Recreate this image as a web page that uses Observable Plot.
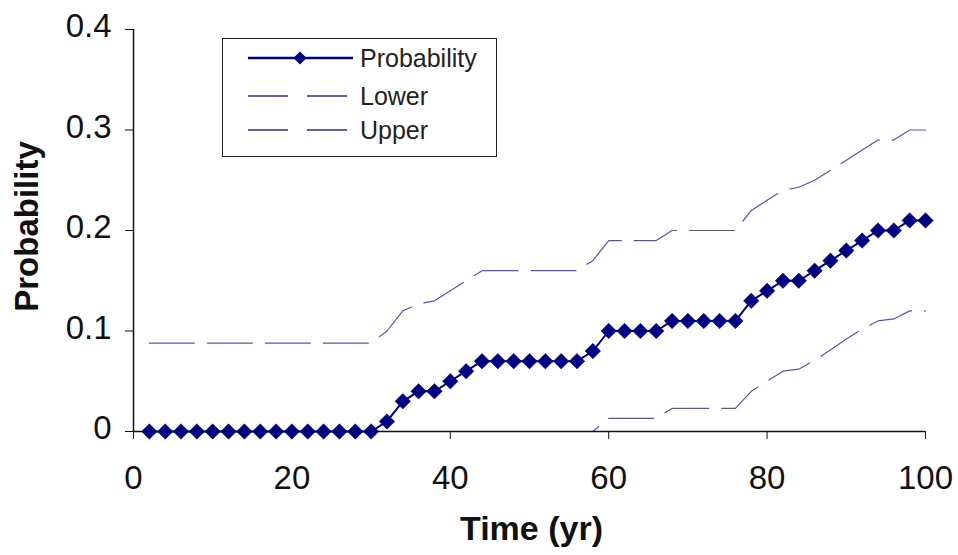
<!DOCTYPE html>
<html><head><meta charset="utf-8">
<script src="https://cdn.jsdelivr.net/npm/d3@7"></script>
<script src="https://cdn.jsdelivr.net/npm/@observablehq/plot@0.6"></script>
<style>
body{margin:0;background:#fff;}
#wrap{position:relative;width:958px;height:555px;overflow:hidden;}
#legend{position:absolute;left:222px;top:38px;width:275px;height:119px;box-sizing:border-box;border:1.5px solid #222;background:#fff;}
</style></head><body><div id="wrap"></div>
<script>
// Data
const years = [2,4,6,8,10,12,14,16,18,20,22,24,26,28,30,32,34,36,38,40,42,44,46,48,50,52,54,56,58,60,62,64,66,68,70,72,74,76,78,80,82,84,86,88,90,92,94,96,98,100];
const probability = [0,0,0,0,0,0,0,0,0,0,0,0,0,0,0,
  0.01,0.03,0.04,0.04,0.05,0.06,0.07,0.07,0.07,0.07,0.07,0.07,0.07,0.08,0.10,0.10,0.10,0.10,
  0.11,0.11,0.11,0.11,0.11,0.13,0.14,0.15,0.15,0.16,0.17,0.18,0.19,0.20,0.20,0.21,0.21];
const lower = [0,0,0,0,0,0,0,0,0,0,0,0,0,0,0,0,0,0,0,0,0,0,0,0,0,0,0,0,0,
  0.013,0.013,0.013,0.013,0.023,0.023,0.023,0.023,0.023,0.04,0.05,0.06,0.062,0.071,0.081,0.092,0.102,0.11,0.112,0.12,0.12];
const upper = [0.088,0.088,0.088,0.088,0.088,0.088,0.088,0.088,0.088,0.088,0.088,0.088,0.088,0.088,0.088,
  0.10,0.12,0.127,0.13,0.14,0.15,0.16,0.16,0.16,0.16,0.16,0.16,0.16,0.17,0.19,0.19,0.19,0.19,
  0.20,0.20,0.20,0.20,0.20,0.22,0.23,0.24,0.243,0.25,0.26,0.27,0.28,0.29,0.29,0.30,0.30];
const xTicks = [0,20,40,60,80,100];
const yTicks = [0,0.1,0.2,0.3,0.4];
const yTickLabels = ["0","0.1","0.2","0.3","0.4"];
const seriesNames = ["Probability","Lower","Upper"];
const xLabel = "Time (yr)";
const yLabel = "Probability";

const rows = years.map((year,i)=>({year, probability: probability[i], lower: lower[i], upper: upper[i]}));
const navy = "#000080";
const dashColor = "#2a2a96";

const chart = Plot.plot({
  width: 958, height: 555,
  marginLeft: 133, marginRight: 33, marginTop: 29, marginBottom: 124,
  style: {fontFamily: "'Liberation Sans', Arial, sans-serif", fontSize: "33px", color: "#111", background: "#fff", overflow: "visible"},
  x: {domain: [0,100]},
  y: {domain: [0,0.4]},
  marks: [
    Plot.axisX({ticks: xTicks, tickSize: 8, tickPadding: 26, label: null, fontSize: 33}),
    Plot.axisY({ticks: yTicks, tickSize: 8, text: null, label: null}),
    Plot.axisY({ticks: yTicks, tickSize: 0, tickPadding: 22, dy: -3, label: null, fontSize: 33,
      tickFormat: d => yTickLabels[yTicks.indexOf(d)]}),
    Plot.line(rows, {x: "year", y: "lower", stroke: dashColor, strokeWidth: 1.2, strokeOpacity: 0.8, strokeDasharray: "45,13"}),
    Plot.line(rows, {x: "year", y: "upper", stroke: dashColor, strokeWidth: 1.2, strokeOpacity: 0.8, strokeDasharray: "45,13"}),
    Plot.ruleY([0], {stroke: "#111", strokeWidth: 1.5}),
    Plot.ruleX([0], {stroke: "#111", strokeWidth: 1.5}),
    Plot.line(rows, {x: "year", y: "probability", stroke: navy, strokeWidth: 2}),
    Plot.dot(rows, {x: "year", y: "probability", symbol: "diamond2", r: 7, fill: navy, stroke: navy, strokeWidth: 0.5}),
    Plot.text([xLabel], {frameAnchor: "bottom", dx: 2, dy: 108, fontWeight: "bold", fontSize: 34, fill: "#111"}),
    Plot.text([yLabel], {frameAnchor: "left", textAnchor: "middle", dx: -106, dy: -4, rotate: -90, fontWeight: "bold", fontSize: 33, fill: "#111"})
  ]
});
const wrap = document.getElementById("wrap");
wrap.appendChild(chart);

// Legend
const legend = document.createElement("div");
legend.id = "legend";
wrap.appendChild(legend);
const lsvg = d3.select(legend).append("svg").attr("width", 272).attr("height", 116)
  .style("position","absolute").style("left","0").style("top","0");
const rowY = [19, 57, 91];
seriesNames.forEach((name, i) => {
  const g = lsvg.append("g").attr("transform", `translate(0,${rowY[i]})`);
  if (i === 0) {
    g.append("line").attr("x1", 25).attr("x2", 130).attr("y1", 0).attr("y2", 0)
      .attr("stroke", navy).attr("stroke-width", 2.5);
    g.append("path").attr("d", d3.symbol(d3.symbolDiamond2, 110)()).attr("transform", "translate(77,0)")
      .attr("fill", navy);
  } else {
    g.append("line").attr("x1", 25).attr("x2", 130).attr("y1", 0).attr("y2", 0)
      .attr("stroke", dashColor).attr("stroke-width", 1.3).attr("stroke-dasharray", "40,19");
  }
  g.append("text").attr("x", 137).attr("y", 0).attr("dy", "0.35em")
    .attr("font-family", "'Liberation Sans', Arial, sans-serif").attr("font-size", 25)
    .attr("fill", "#222").text(name);
});
</script></body></html>
